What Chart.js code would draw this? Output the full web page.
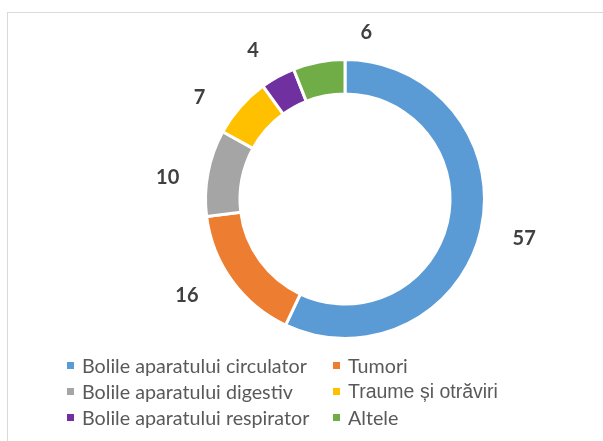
<!DOCTYPE html>
<html>
<head>
<meta charset="utf-8">
<script src="https://cdn.jsdelivr.net/npm/chart.js@4.4.1/dist/chart.umd.min.js"></script>
<style>
  html, body { margin: 0; padding: 0; background: #fff; }
  #wrap { position: relative; width: 603px; height: 441px; overflow: hidden; }
  #frame {
    position: absolute; left: 7px; top: 12px; width: 700px; height: 500px;
    border: 1px solid #d9d9d9; box-sizing: border-box;
  }
  #cause_chart { position: absolute; left: 0; top: 0; }
  #legend {
    position: absolute; left: 67px; top: 352px;
    display: grid; grid-template-columns: 266px auto; grid-auto-rows: 26px;
    font: 19.7px Lato, sans-serif; color: #595959;
  }
  .item { display: flex; align-items: center; white-space: nowrap; }
  .swatch { width: 7px; height: 7px; margin-right: 8px; flex: none; }
</style>
</head>
<body>
<div id="wrap">
  <div id="frame"></div>
  <canvas id="cause_chart" width="603" height="441"></canvas>
  <div id="legend"></div>
</div>
<script>
const causes = [
  "Bolile aparatului circulator",
  "Tumori",
  "Bolile aparatului digestiv",
  "Traume și otrăviri",
  "Bolile aparatului respirator",
  "Altele",
];
const shares = [57, 16, 10, 7, 4, 6];
const slice_colors = ["#5b9bd5", "#ed7d31", "#a5a5a5", "#ffc000", "#7030a0", "#70ad47"];

// value labels sit outside the ring, pushed around a little by hand
const sliceLabels = {
  id: "sliceLabels",
  afterDatasetsDraw(chart, args, opts) {
    const ctx = chart.ctx;
    const meta = chart.getDatasetMeta(0);
    const values = chart.data.datasets[0].data;
    ctx.save();
    ctx.font = opts.font;
    ctx.fillStyle = opts.color;
    ctx.textAlign = "center";
    ctx.textBaseline = "middle";
    meta.data.forEach((arc, i) => {
      const p = arc.getProps(["x", "y", "startAngle", "endAngle", "outerRadius"], true);
      const mid = (p.startAngle + p.endAngle) / 2;
      const r = p.outerRadius + opts.distance;
      const nudge = opts.nudges[i] || [0, 0];
      ctx.fillText(
        String(values[i]),
        p.x + Math.cos(mid) * r + nudge[0],
        p.y + Math.sin(mid) * r + nudge[1]
      );
    });
    ctx.restore();
  },
};

const config = {
  type: "doughnut",
  data: {
    labels: causes,
    datasets: [
      {
        data: shares,
        backgroundColor: slice_colors,
        borderColor: "#ffffff",
        borderWidth: 3,
        hoverOffset: 0,
      },
    ],
  },
  options: {
    responsive: false,
    animation: false,
    cutout: "75.3%",
    layout: {
      padding: { left: 204, top: 58, right: 117, bottom: 101 },
    },
    plugins: {
      legend: { display: false },
      tooltip: { enabled: false },
      sliceLabels: {
        font: "bold 20px Lato, sans-serif",
        color: "#404040",
        distance: 41,
        nudges: [[3, 0], [-12, -10], [0, 12], [-10, 18], [-5, 10], [55, 11]],
      },
    },
  },
  plugins: [sliceLabels],
};

const chart = new Chart(document.getElementById("cause_chart"), config);

// two-column legend built from the chart's own labels
const legendItemFont = { 3: '19.5px "Liberation Sans", Arial, sans-serif' };
const legendBox = document.getElementById("legend");
chart.options.plugins.legend.labels.generateLabels(chart).forEach((item, i) => {
  const el = document.createElement("div");
  el.className = "item";
  const sw = document.createElement("span");
  sw.className = "swatch";
  sw.style.background = item.fillStyle;
  const txt = document.createElement("span");
  txt.textContent = item.text;
  if (legendItemFont[i]) txt.style.font = legendItemFont[i];
  el.appendChild(sw);
  el.appendChild(txt);
  legendBox.appendChild(el);
});
</script>
</body>
</html>
